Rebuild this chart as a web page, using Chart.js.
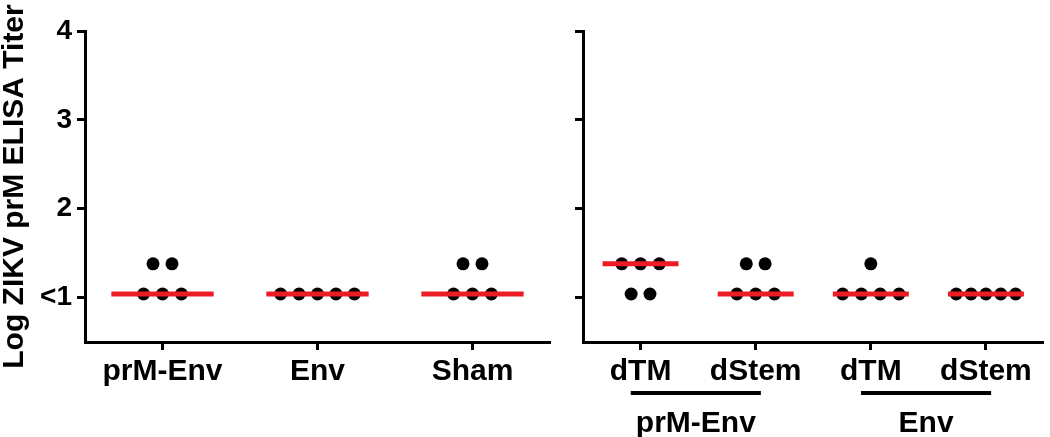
<!DOCTYPE html>
<html>
<head>
<meta charset="utf-8">
<script src="https://cdn.jsdelivr.net/npm/chart.js@4.4.1/dist/chart.umd.min.js"></script>
<style>
  body { margin: 0; background: #fff; }
  canvas { position: absolute; top: 0; }
  #leftChart { left: 0; }
  #rightChart { left: 560px; }
</style>
</head>
<body>
<canvas id="leftChart" width="560" height="437"></canvas>
<canvas id="rightChart" width="490" height="437"></canvas>
<script>
// left panel: vaccine groups
const leftGroups = ['prM-Env', 'Env', 'Sham'];
const leftPrMEnv = [1.38, 1.38, 1.04, 1.04, 1.04];
const leftEnv = [1.04, 1.04, 1.04, 1.04, 1.04];
const leftSham = [1.38, 1.38, 1.04, 1.04, 1.04];

// right panel: deletion constructs
const rightGroups = ['dTM', 'dStem', 'dTM', 'dStem'];
const rightPrMEnvDTM = [1.38, 1.38, 1.38, 1.04, 1.04];
const rightPrMEnvDStem = [1.38, 1.38, 1.04, 1.04, 1.04];
const rightEnvDTM = [1.38, 1.04, 1.04, 1.04, 1.04];
const rightEnvDStem = [1.04, 1.04, 1.04, 1.04, 1.04];
const rightBrackets = [
  { label: 'prM-Env', from: 0, to: 1 },
  { label: 'Env', from: 2, to: 3 }
];

const yTicks = [1, 2, 3, 4];
const yTickLabels = ['<1', '2', '3', '4'];

const FONT = '"Liberation Sans", Arial, sans-serif';

function median(a) {
  const s = [...a].sort((p, q) => p - q);
  const m = s.length >> 1;
  return s.length % 2 ? s[m] : (s[m - 1] + s[m]) / 2;
}

// lay points of equal value side by side, like a column scatter
function swarm(values, center, gap, maxSpread) {
  const rows = new Map();
  values.forEach(v => {
    if (!rows.has(v)) rows.set(v, []);
    rows.get(v).push(v);
  });
  const pts = [];
  rows.forEach(row => {
    const n = row.length;
    const g = n > 1 ? Math.min(gap, maxSpread / (n - 1)) : 0;
    row.forEach((v, j) => pts.push({ x: center + (j - (n - 1) / 2) * g, y: v }));
  });
  return pts;
}

function buildDatasets(groups, gap, spread) {
  const ds = [];
  groups.forEach((vals, i) => {
    const m = median(vals);
    ds.push({
      type: 'line',
      data: [{ x: i - 0.33, y: m }, { x: i + 0.33, y: m }],
      borderColor: '#ed1c24',
      borderWidth: 5,
      borderCapStyle: 'butt',
      pointRadius: 0,
      order: 0
    });
    ds.push({
      type: 'scatter',
      data: swarm(vals, i, gap, spread),
      backgroundColor: '#000',
      borderWidth: 0,
      pointRadius: 6.5,
      order: 1
    });
  });
  return ds;
}

function buildScales(labels, yWidth, showY) {
  return {
    x: {
      type: 'linear',
      min: -0.5,
      max: labels.length - 0.5,
      afterBuildTicks: s => { s.ticks = labels.map((_, i) => ({ value: i })); },
      afterFit: s => { s.height = 95; },
      ticks: {
        callback: v => labels[v],
        color: '#000',
        font: { family: FONT, size: 30, weight: 'bold' },
        padding: 4,
        maxRotation: 0,
        autoSkip: false
      },
      grid: { drawOnChartArea: false, tickLength: 8, tickWidth: 3, color: '#000' },
      border: { color: '#000', width: 3 }
    },
    y: {
      min: 0.5,
      max: 4,
      afterBuildTicks: s => { s.ticks = yTicks.map(v => ({ value: v })); },
      afterFit: s => { s.width = yWidth; },
      ticks: {
        display: showY,
        callback: (v, i) => yTickLabels[i],
        color: '#000',
        font: { family: FONT, size: 28, weight: 'bold' },
        padding: 5
      },
      grid: { drawOnChartArea: false, tickLength: 8, tickWidth: 3, color: '#000' },
      border: { color: '#000', width: 3 },
      title: {
        display: showY,
        text: 'Log ZIKV prM ELISA Titer',
        color: '#000',
        font: { family: FONT, size: 30, weight: 'bold', lineHeight: 1 },
        padding: 0
      }
    }
  };
}

const common = {
  responsive: false,
  animation: false,
  plugins: { legend: { display: false }, tooltip: { enabled: false } }
};

// group brackets under the right panel
const bracketPlugin = {
  id: 'brackets',
  afterDraw(chart) {
    const { ctx, chartArea } = chart;
    const x = chart.scales.x;
    ctx.save();
    ctx.strokeStyle = '#000';
    ctx.fillStyle = '#000';
    ctx.lineWidth = 4;
    ctx.font = 'bold 30px ' + FONT;
    ctx.textAlign = 'center';
    ctx.textBaseline = 'middle';
    rightBrackets.forEach(b => {
      const x0 = x.getPixelForValue(b.from - 0.085);
      const x1 = x.getPixelForValue(b.to + 0.045);
      const y = chartArea.bottom + 51;
      ctx.beginPath();
      ctx.moveTo(x0, y);
      ctx.lineTo(x1, y);
      ctx.stroke();
      ctx.fillText(b.label, (x0 + x1) / 2, chartArea.bottom + 82);
    });
    ctx.restore();
  }
};

new Chart(document.getElementById('leftChart'), {
  type: 'scatter',
  data: { datasets: buildDatasets([leftPrMEnv, leftEnv, leftSham], 19 / 155.3, 74 / 155.3) },
  options: {
    ...common,
    layout: { padding: { top: 31, right: 10, left: 0, bottom: 0 } },
    scales: buildScales(leftGroups, 85, true)
  }
});

new Chart(document.getElementById('rightChart'), {
  type: 'scatter',
  data: {
    datasets: buildDatasets([rightPrMEnvDTM, rightPrMEnvDStem, rightEnvDTM, rightEnvDStem],
      19 / 116.25, 60 / 116.25)
  },
  options: {
    ...common,
    layout: { padding: { top: 31, right: 2, left: 0, bottom: 0 } },
    scales: buildScales(rightGroups, 23, false)
  },
  plugins: [bracketPlugin]
});
</script>
</body>
</html>
